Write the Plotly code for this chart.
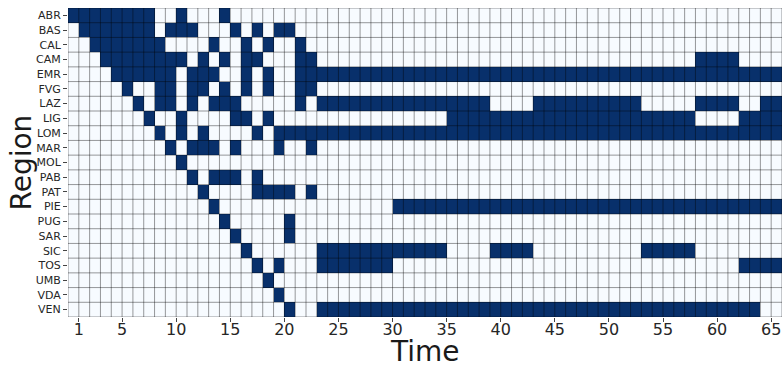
import plotly.graph_objects as go

regions = ["ABR", "BAS", "CAL", "CAM", "EMR", "FVG", "LAZ", "LIG", "LOM", "MAR", "MOL",
           "PAB", "PAT", "PIE", "PUG", "SAR", "SIC", "TOS", "UMB", "VDA", "VEN"]

time_steps = list(range(66))
tick_values = [1, 5, 10, 15, 20, 25, 30, 35, 40, 45, 50, 55, 60, 65]

# active (dark) intervals per region, inclusive time-step indices
active_spans = [
    [(0, 7), (10, 10), (14, 14)],                                              # ABR
    [(1, 7), (9, 11), (15, 15), (17, 17), (19, 20)],                           # BAS
    [(2, 8), (13, 13), (16, 16), (18, 18), (21, 21)],                          # CAL
    [(3, 10), (12, 12), (14, 14), (16, 17), (21, 22), (58, 61)],               # CAM
    [(4, 9), (11, 13), (16, 16), (18, 18), (21, 65)],                          # EMR
    [(5, 5), (8, 9), (11, 12), (14, 14), (16, 16), (18, 18), (21, 22)],        # FVG
    [(6, 6), (8, 9), (11, 11), (13, 15), (21, 21), (23, 38), (43, 52),
     (58, 61), (64, 65)],                                                      # LAZ
    [(7, 7), (10, 10), (15, 16), (18, 18), (35, 57), (62, 65)],                # LIG
    [(8, 8), (10, 10), (12, 12), (17, 17), (19, 65)],                          # LOM
    [(9, 9), (11, 13), (15, 15), (19, 19), (22, 22)],                          # MAR
    [(10, 10)],                                                                # MOL
    [(11, 11), (13, 15), (17, 17)],                                            # PAB
    [(12, 12), (17, 20), (22, 22)],                                            # PAT
    [(13, 13), (30, 65)],                                                      # PIE
    [(14, 14), (20, 20)],                                                      # PUG
    [(15, 15), (20, 20)],                                                      # SAR
    [(16, 16), (23, 34), (39, 42), (53, 57)],                                  # SIC
    [(17, 17), (19, 19), (23, 29), (62, 65)],                                  # TOS
    [(18, 18)],                                                                # UMB
    [(19, 19)],                                                                # VDA
    [(20, 20), (23, 63)],                                                      # VEN
]

z = []
for spans in active_spans:
    row = [0] * len(time_steps)
    for a, b in spans:
        for t in range(a, b + 1):
            row[t] = 1
    z.append(row)

n_cols = len(time_steps)
n_rows = len(regions)
x_centers = [t + 0.5 for t in time_steps]
y_idx = list(range(n_rows))

fig = go.Figure(go.Heatmap(
    z=z, x=x_centers, y=y_idx,
    colorscale=[[0, "#f7fbff"], [1, "#08306b"]],
    zmin=0, zmax=1, showscale=False, hoverinfo="skip",
))

grid = dict(type="line", layer="above", line=dict(color="rgba(0,0,0,0.4)", width=1))
shapes = []
for i in range(n_cols + 1):
    shapes.append(dict(grid, xref="x", yref="paper", x0=i, x1=i, y0=0, y1=1))
for j in range(n_rows + 1):
    shapes.append(dict(grid, xref="paper", yref="y", x0=0, x1=1, y0=j - 0.5, y1=j - 0.5))

fig.update_layout(
    width=782, height=365,
    margin=dict(l=68, r=0, t=8, b=48),
    paper_bgcolor="white", plot_bgcolor="white",
    font=dict(family="DejaVu Sans", color="#262626"),
    shapes=shapes,
    xaxis=dict(
        range=[0, n_cols], tickvals=tick_values, ticktext=[str(v) for v in tick_values],
        ticks="outside", ticklen=4, tickcolor="#444", showgrid=False, zeroline=False,
        tickfont=dict(size=16, color="#262626"), automargin=False,
        ticklabelstandoff=-6,
    ),
    yaxis=dict(
        range=[n_rows - 0.5, -0.5], tickvals=y_idx, ticktext=regions,
        ticks="outside", ticklen=4, tickcolor="#444", showgrid=False, zeroline=False,
        tickfont=dict(size=11, color="#262626"), automargin=False,
    ),
    annotations=[
        dict(text="Time", xref="paper", yref="paper", x=0.5, y=-0.113,
             xanchor="center", yanchor="middle", showarrow=False,
             font=dict(size=28, color="#1a1a1a")),
        dict(text="Region", xref="paper", yref="paper", x=-0.0658, y=0.5,
             xanchor="center", yanchor="middle", textangle=-90, showarrow=False,
             font=dict(size=28, color="#1a1a1a")),
    ],
)

fig.write_html("out.html")
